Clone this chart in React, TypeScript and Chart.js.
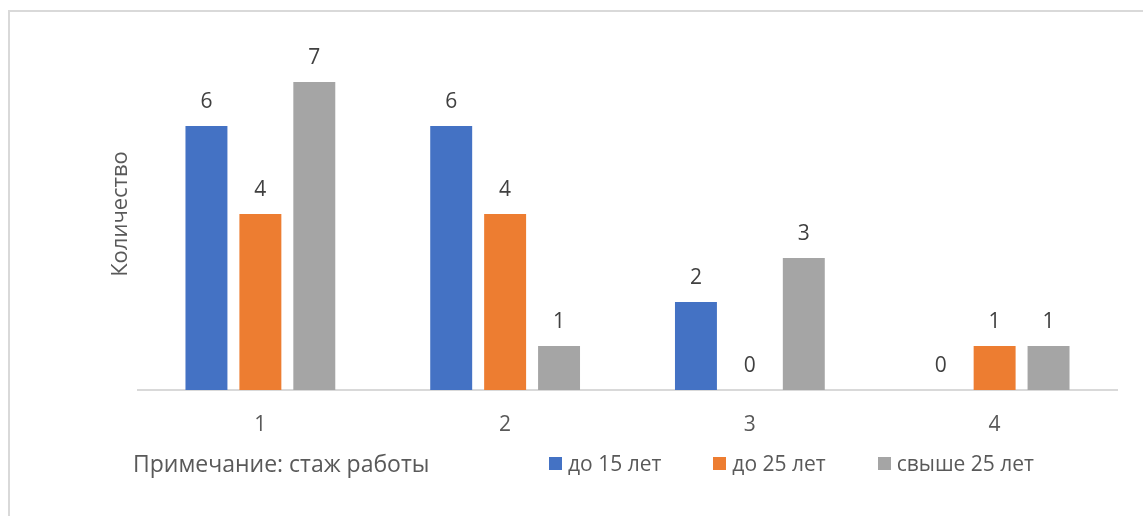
import React, { useEffect, useRef } from "react";
import { Chart, registerables } from "chart.js";

Chart.register(...registerables);

// ---- data ----
const categories = ["1", "2", "3", "4"];
const seriesNames = ["до 15 лет", "до 25 лет", "свыше 25 лет"];
const seriesUpTo15 = [6, 6, 2, 0];
const seriesUpTo25 = [4, 4, 0, 1];
const seriesOver25 = [7, 1, 3, 1];
const seriesColors = ["#4472C4", "#ED7D31", "#A5A5A5"];
const yAxisTitle = "Количество";
const noteText = "Примечание: стаж работы";
const yMin = 0;
const yMax = 8;

const FONT = '"Open Sans", "Noto Sans", sans-serif';

const valueLabels = {
  id: "valueLabels",
  afterDatasetsDraw(chart: any) {
    const ctx = chart.ctx;
    ctx.save();
    ctx.font = `21px ${FONT}`;
    ctx.fillStyle = "#404040";
    ctx.textAlign = "center";
    ctx.textBaseline = "alphabetic";
    chart.data.datasets.forEach((ds: any, i: number) => {
      const meta = chart.getDatasetMeta(i);
      meta.data.forEach((el: any, j: number) => {
        ctx.fillText(String(ds.data[j]), el.x, el.y - 18);
      });
    });
    ctx.restore();
  },
};

export default function App() {
  const canvasRef = useRef<HTMLCanvasElement | null>(null);

  useEffect(() => {
    if (!canvasRef.current) return;
    const seriesData = [seriesUpTo15, seriesUpTo25, seriesOver25];
    const chart = new Chart(canvasRef.current, {
      type: "bar",
      data: {
        labels: categories,
        datasets: seriesNames.map((name, i) => ({
          label: name,
          data: seriesData[i],
          backgroundColor: seriesColors[i],
          borderWidth: 0,
          categoryPercentage: 0.661,
          barPercentage: 0.778,
        })),
      },
      options: {
        animation: false,
        responsive: true,
        maintainAspectRatio: false,
        layout: { padding: { left: 108, right: 26, top: 38, bottom: 76 } },
        plugins: {
          legend: { display: false },
          tooltip: { enabled: false },
        },
        scales: {
          x: {
            grid: { display: false, drawTicks: false },
            border: { display: true, color: "#D9D9D9", width: 2 },
            ticks: {
              color: "#595959",
              font: { family: FONT, size: 21 },
              padding: 22,
            },
            afterFit: (scale: any) => {
              scale.height = 50;
            },
          },
          y: {
            min: yMin,
            max: yMax,
            grid: { display: false, drawTicks: false },
            border: { display: false },
            ticks: { display: false },
            title: {
              display: true,
              text: yAxisTitle,
              color: "#595959",
              font: { family: FONT, size: 22 },
              padding: 0,
            },
            afterFit: (scale: any) => {
              scale.width = 30;
            },
          },
        },
      },
      plugins: [valueLabels],
    });
    return () => chart.destroy();
  }, []);

  return (
    <div
      style={{
        position: "fixed",
        left: 0,
        top: 0,
        width: 1143,
        height: 516,
        background: "#fff",
        overflow: "hidden",
        fontFamily: FONT,
      }}
    >
      <div
        style={{
          position: "absolute",
          left: 8,
          top: 10,
          width: 1200,
          height: 600,
          borderLeft: "2px solid #D9D9D9",
          borderTop: "2px solid #D9D9D9",
          boxSizing: "border-box",
        }}
      />
      <div style={{ position: "absolute", left: 0, top: 0, width: 1143, height: 516 }}>
        <canvas ref={canvasRef} />
      </div>
      <div
        style={{
          position: "absolute",
          left: 133,
          top: 452,
          fontSize: 23,
          lineHeight: "23px",
          color: "#595959",
          whiteSpace: "nowrap",
        }}
      >
        {noteText}
      </div>
      <div
        style={{
          position: "absolute",
          left: 549,
          top: 453,
          display: "flex",
          alignItems: "center",
          fontSize: 21,
          lineHeight: "21px",
          color: "#595959",
          whiteSpace: "nowrap",
        }}
      >
        {seriesNames.map((name, i) => (
          <div
            key={name}
            style={{ display: "flex", alignItems: "center", marginRight: i < seriesNames.length - 1 ? 52 : 0 }}
          >
            <span
              style={{
                display: "inline-block",
                width: 13,
                height: 13,
                background: seriesColors[i],
                marginRight: 6,
              }}
            />
            <span>{name}</span>
          </div>
        ))}
      </div>
    </div>
  );
}
